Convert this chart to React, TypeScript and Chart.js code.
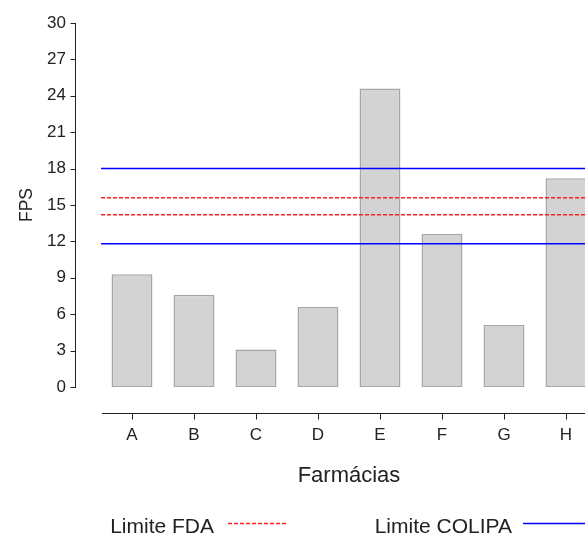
import React, { useEffect, useRef } from "react";
import { Chart, registerables } from "chart.js";

Chart.register(...registerables);

// ---- data ----
const categories = ["A", "B", "C", "D", "E", "F", "G", "H"];
const fpsValues = [9.3, 7.6, 3.1, 6.6, 24.6, 12.6, 5.1, 17.2];
const fdaLimits = [15.6, 14.2];
const colipaLimits = [18, 11.8];
const yMin = 0;
const yMax = 30;
const yStep = 3;
const xTitle = "Farmácias";
const yTitle = "FPS";
const legendFda = "Limite FDA";
const legendColipa = "Limite COLIPA";

const FONT = "'Liberation Sans', Arial, sans-serif";
const AXIS_COLOR = "#222222";
const FDA_COLOR = "#ff2020";
const COLIPA_COLOR = "#0000ff";

const axesLegendPlugin = {
  id: "axesLegend",
  afterDraw(chart: any) {
    const { ctx, chartArea, scales } = chart;
    const y = scales.y;
    const x = scales.x;
    ctx.save();
    ctx.strokeStyle = AXIS_COLOR;
    ctx.lineWidth = 1;
    ctx.setLineDash([]);
    // y axis line + tick marks
    const ax = Math.round(chartArea.left - 26) + 0.5;
    ctx.beginPath();
    ctx.moveTo(ax, Math.round(y.getPixelForValue(yMax)));
    ctx.lineTo(ax, Math.round(y.getPixelForValue(yMin)) + 1);
    y.ticks.forEach((t: any) => {
      const py = Math.round(y.getPixelForValue(t.value)) + 0.5;
      ctx.moveTo(ax - 5, py);
      ctx.lineTo(ax, py);
    });
    // x axis line + tick marks
    const ay = Math.round(chartArea.bottom + 26) + 0.5;
    ctx.moveTo(chartArea.left + 1, ay);
    ctx.lineTo(chart.width, ay);
    x.ticks.forEach((_t: any, i: number) => {
      const px = Math.round(x.getPixelForTick(i)) + 0.5;
      ctx.moveTo(px, ay);
      ctx.lineTo(px, ay + 6);
    });
    ctx.stroke();

    // legend (label, then line sample)
    const ly = 523.5;
    const base = 533;
    ctx.font = `21px ${FONT}`;
    ctx.fillStyle = "#222222";
    ctx.textAlign = "right";
    ctx.textBaseline = "alphabetic";
    ctx.fillText(legendFda, 214, base);
    ctx.fillText(legendColipa, 512, base);
    ctx.lineWidth = 1.5;
    ctx.strokeStyle = FDA_COLOR;
    ctx.setLineDash([4, 2]);
    ctx.beginPath();
    ctx.moveTo(228, ly);
    ctx.lineTo(288, ly);
    ctx.stroke();
    ctx.setLineDash([]);
    ctx.strokeStyle = COLIPA_COLOR;
    ctx.beginPath();
    ctx.moveTo(523, ly);
    ctx.lineTo(585, ly);
    ctx.stroke();
    ctx.restore();
  },
};

export default function App() {
  const ref = useRef<HTMLCanvasElement | null>(null);

  useEffect(() => {
    if (!ref.current) return;
    const limitDataset = (v: number, color: string, dash: number[]) => ({
      type: "line" as const,
      data: [
        { x: 0, y: v },
        { x: 1, y: v },
      ],
      xAxisID: "x2",
      yAxisID: "y",
      borderColor: color,
      backgroundColor: color,
      borderWidth: 1.5,
      borderDash: dash,
      pointRadius: 0,
      pointHoverRadius: 0,
      fill: false,
      order: 0,
    });
    const chart = new Chart(ref.current, {
      type: "bar",
      data: {
        labels: categories,
        datasets: [
          {
            type: "bar" as const,
            data: fpsValues,
            xAxisID: "x",
            yAxisID: "y",
            backgroundColor: "#d3d3d3",
            borderColor: "#a6a6a6",
            borderWidth: 1.5,
            borderSkipped: false,
            categoryPercentage: 1,
            barPercentage: 0.66,
            grouped: false,
            order: 1,
          },
          ...colipaLimits.map((v) => limitDataset(v, COLIPA_COLOR, [])),
          ...fdaLimits.map((v) => limitDataset(v, FDA_COLOR, [4, 2])),
        ] as any,
      },
      plugins: [axesLegendPlugin],
      options: {
        responsive: false,
        maintainAspectRatio: false,
        devicePixelRatio: 1,
        animation: false,
        layout: { autoPadding: false, padding: { left: 0, top: 23, right: 3, bottom: 46 } },
        plugins: {
          legend: { display: false },
          tooltip: { enabled: false },
        },
        scales: {
          x: {
            type: "category",
            offset: true,
            grid: { display: false, drawTicks: true, tickLength: 30, offset: true },
            border: { display: false },
            ticks: {
              color: "#222222",
              font: { family: FONT, size: 17 },
              padding: 8,
            },
            title: {
              display: true,
              text: xTitle,
              color: "#222222",
              font: { family: FONT, size: 22, lineHeight: 1 },
              padding: { top: 0, bottom: 0 },
            },
            afterFit: (s: any) => {
              s.height = 100;
            },
          },
          x2: {
            type: "linear",
            display: false,
            offset: false,
            min: 0,
            max: 1,
            ticks: { display: false },
          },
          y: {
            type: "linear",
            min: yMin,
            max: yMax,
            grid: { display: false, drawTicks: true, tickLength: 30 },
            border: { display: false },
            ticks: {
              stepSize: yStep,
              color: "#222222",
              font: { family: FONT, size: 17 },
              padding: 5,
            },
            title: {
              display: true,
              text: yTitle,
              color: "#222222",
              font: { family: FONT, size: 17.5 },
              padding: { top: 17, bottom: 0 },
            },
            afterFit: (s: any) => {
              s.width = 101;
            },
          },
        },
      } as any,
    });
    return () => chart.destroy();
  }, []);

  return (
    <div
      style={{
        position: "absolute",
        left: 0,
        top: 0,
        width: 585,
        height: 533,
        overflow: "hidden",
        background: "#ffffff",
      }}
    >
      <div style={{ width: 600, height: 533 }}>
        <canvas ref={ref} width={600} height={533} style={{ display: "block" }} />
      </div>
    </div>
  );
}
